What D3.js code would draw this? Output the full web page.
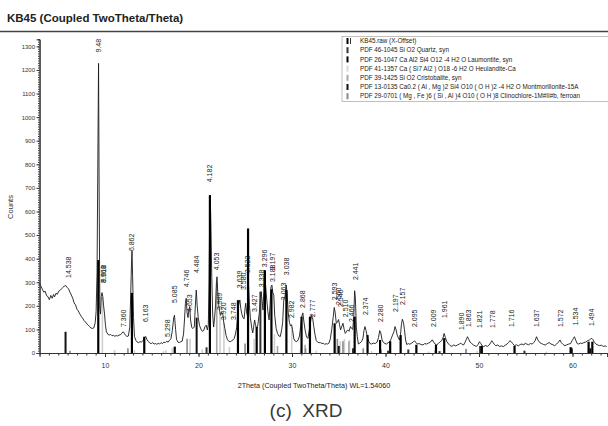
<!DOCTYPE html>
<html>
<head>
<meta charset="utf-8">
<script src="https://cdn.jsdelivr.net/npm/d3@7/dist/d3.min.js"></script>
<style>
  body { margin: 0; background: #fff; }
  svg { display: block; font-family: "Liberation Sans", Arial, sans-serif; }
</style>
</head>
<body>
<div id="chart"></div>
<script>
// measured scan, [2theta, counts]
var scan = [
  [3.0,296],[3.15,283],[3.3,270],[3.45,258],[3.6,262],[3.75,243],[3.9,239],[4.05,226],[4.2,244],[4.35,232],
  [4.5,248],[4.6,238],[4.75,253],[4.9,249],[5.05,262],[5.2,266],[5.35,272],[5.5,278],[5.65,284],[5.8,286],
  [5.95,278],[6.1,272],[6.25,258],[6.4,246],[6.55,232],[6.7,212],[6.85,204],[7.0,186],[7.15,178],[7.3,166],
  [7.45,156],[7.6,148],[7.75,138],[7.9,132],[8.05,124],[8.2,119],[8.35,112],[8.5,106],[8.65,104],[8.8,106],
  [8.95,128],[9.05,175],[9.15,340],[9.25,900],[9.31,1228],[9.37,700],[9.45,190],[9.52,165],[9.6,240],[9.68,256],
  [9.76,240],[9.85,200],[9.95,165],[10.05,118],[10.15,90],[10.3,80],[10.45,76],[10.6,79],[10.75,73],[10.9,75],
  [11.05,71],[11.2,74],[11.35,72],[11.5,76],[11.65,77],[11.8,84],[11.95,90],[12.05,84],[12.2,75],[12.35,70],
  [12.5,72],[12.65,110],[12.75,250],[12.85,400],[12.89,432],[12.95,330],[13.05,150],[13.15,70],[13.3,54],[13.45,46],
  [13.6,44],[13.75,48],[13.9,46],[14.05,52],[14.2,64],[14.35,70],[14.5,56],[14.65,48],[14.8,42],[14.95,40],
  [15.1,44],[15.25,38],[15.4,40],[15.55,37],[15.7,41],[15.85,38],[16.0,44],[16.15,40],[16.3,46],[16.45,44],
  [16.6,50],[16.75,46],[16.9,54],[17.05,60],[17.2,95],[17.35,150],[17.43,160],[17.55,100],[17.65,58],[17.8,46],
  [17.95,44],[18.1,48],[18.25,50],[18.4,80],[18.5,140],[18.6,210],[18.68,232],[18.78,170],[18.88,150],[18.98,185],
  [19.06,197],[19.15,140],[19.28,108],[19.4,104],[19.55,110],[19.65,190],[19.76,267],[19.86,200],[19.97,150],[20.1,118],
  [20.25,102],[20.4,92],[20.55,95],[20.7,112],[20.82,118],[20.95,98],[21.05,120],[21.13,300],[21.2,600],[21.25,669],
  [21.32,560],[21.42,320],[21.52,160],[21.62,110],[21.72,150],[21.82,200],[21.92,300],[21.98,323],[22.06,260],[22.16,205],
  [22.27,175],[22.36,160],[22.48,172],[22.6,165],[22.7,130],[22.82,104],[22.95,74],[23.1,56],[23.25,50],[23.4,48],
  [23.55,52],[23.7,56],[23.82,62],[23.95,80],[24.08,108],[24.2,160],[24.3,205],[24.42,225],[24.52,190],[24.62,168],
  [24.75,150],[24.88,145],[24.98,190],[25.05,211],[25.14,175],[25.22,160],[25.3,230],[25.36,281],[25.45,200],[25.55,150],
  [25.68,110],[25.8,85],[25.9,110],[26.0,140],[26.1,120],[26.22,100],[26.35,120],[26.5,168],[26.62,230],[26.7,260],
  [26.8,220],[26.9,182],[26.98,260],[27.05,351],[27.15,300],[27.3,225],[27.42,175],[27.55,140],[27.65,200],[27.75,280],
  [27.85,288],[27.95,255],[28.05,245],[28.15,160],[28.3,105],[28.45,83],[28.6,72],[28.75,70],[28.9,100],[29.0,130],
  [29.12,225],[29.25,240],[29.38,288],[29.48,250],[29.6,170],[29.72,130],[29.85,115],[29.95,120],[30.05,100],[30.2,60],
  [30.35,50],[30.5,48],[30.65,55],[30.8,72],[30.95,120],[31.05,155],[31.16,170],[31.28,130],[31.4,98],[31.55,68],
  [31.7,62],[31.82,90],[31.95,125],[32.1,160],[32.2,150],[32.33,112],[32.45,80],[32.6,52],[32.75,46],[32.9,44],
  [33.05,44],[33.2,40],[33.35,42],[33.5,36],[33.65,40],[33.8,38],[33.95,42],[34.1,60],[34.25,100],[34.4,150],
  [34.52,193],[34.62,170],[34.74,126],[34.85,130],[34.98,142],[35.08,120],[35.2,98],[35.3,110],[35.45,126],[35.58,100],
  [35.7,83],[35.82,90],[35.95,98],[36.1,92],[36.25,112],[36.38,104],[36.5,100],[36.6,150],[36.7,264],[36.78,230],
  [36.88,110],[36.98,70],[37.1,38],[37.25,42],[37.42,48],[37.58,60],[37.7,95],[37.8,112],[37.92,95],[38.05,69],
  [38.2,50],[38.35,40],[38.5,38],[38.7,42],[38.9,40],[39.1,46],[39.25,65],[39.38,95],[39.5,85],[39.63,55],
  [39.8,44],[39.95,40],[40.1,38],[40.3,44],[40.45,48],[40.6,60],[40.75,76],[40.9,90],[41.02,112],[41.12,100],
  [41.25,76],[41.38,64],[41.5,55],[41.6,75],[41.7,120],[41.8,143],[41.92,130],[42.03,98],[42.15,55],[42.27,36],
  [42.45,40],[42.6,37],[42.8,42],[42.95,46],[43.1,52],[43.25,44],[43.4,38],[43.6,40],[43.8,36],[44.0,34],
  [44.2,40],[44.4,38],[44.6,42],[44.8,46],[45.0,56],[45.15,46],[45.3,38],[45.45,34],[45.65,40],[45.85,48],
  [46.0,52],[46.15,64],[46.27,83],[46.4,66],[46.56,48],[46.75,38],[46.9,32],[47.1,28],[47.3,34],[47.5,30],
  [47.7,34],[47.9,38],[48.06,42],[48.2,36],[48.35,34],[48.5,45],[48.65,58],[48.77,69],[48.9,58],[49.05,46],
  [49.2,41],[49.4,34],[49.6,30],[49.75,28],[49.9,36],[50.05,48],[50.2,40],[50.35,30],[50.5,27],[50.7,32],
  [50.9,28],[51.1,34],[51.25,44],[51.37,52],[51.5,44],[51.65,36],[51.8,31],[52.0,34],[52.2,28],[52.4,30],
  [52.6,27],[52.8,33],[53.0,38],[53.15,44],[53.3,52],[53.45,48],[53.6,40],[53.8,31],[54.0,35],[54.2,30],
  [54.4,36],[54.6,38],[54.8,34],[54.95,42],[55.1,38],[55.3,35],[55.5,40],[55.7,38],[55.85,44],[56.0,52],
  [56.15,69],[56.3,55],[56.5,44],[56.7,40],[56.9,36],[57.1,34],[57.3,40],[57.5,44],[57.7,38],[57.9,35],
  [58.1,31],[58.3,38],[58.5,46],[58.66,55],[58.8,44],[59.0,36],[59.2,31],[59.4,35],[59.6,38],[59.8,40],
  [59.95,52],[60.1,62],[60.2,69],[60.35,54],[60.5,40],[60.65,38],[60.85,42],[61.0,40],[61.2,44],[61.4,46],
  [61.6,52],[61.8,55],[61.95,60],[62.07,62],[62.2,56],[62.35,44],[62.5,38],[62.7,34],[62.9,31],[63.1,33],
  [63.3,28],[63.5,30],[63.65,27]
];

// reference patterns (stick positions and heights)
var heulanditeSticks = [[9.72,238],[11.03,13],[13.15,12],[16.25,8],[16.5,12],[17.2,20],[19.1,60],[20.4,15],[22.3,175],[22.72,130],
  [23.3,25],[25.95,60],[28.12,80],[29.97,112],[30.9,15],[32.6,10],[35.15,50],[35.6,60],[36.15,55],[38.5,8],[44.6,6],[49.8,8],[57.2,6]];
var cristobaliteSticks = [[21.95,300],[28.45,30],[31.4,35],[36.08,50],[48.62,15]];
var clinochloreSticks = [[6.25,10],[12.45,20],[18.78,60],[24.98,40],[31.45,20],[34.85,60],[35.45,50],[37.62,20],[45.32,12],[48.6,18],[59.9,8]];
var quartzSticks = [[20.86,24],[26.62,260],[36.52,20],[39.46,15],[40.28,10],[42.44,15],[45.78,8],[50.12,30],[54.86,10],[59.94,20]];
var montmorilloniteSticks = [[5.78,90],[19.8,150],[35.0,30],[61.9,20]];
var laumontiteSticks = [[9.28,394],[12.88,255],[14.2,69],[17.46,27],[21.22,669],[24.22,224],[25.3,528],[26.22,110],[27.1,351],
  [27.8,270],[29.4,267],[31.02,154],[31.92,154],[34.56,126],[36.7,154],[38.08,76],[39.42,55],[40.5,50],[41.62,76],[43.3,35],
  [45.4,35],[46.28,63],[50.3,30],[53.8,30],[59.8,25],[61.72,48],[62.12,48]];

// d-spacing labels above the peaks
var peakLabels = ["14.538","9.48","8.960","9.018","7.360","6.862","6.163","5.298","5.085","4.746","4.653","4.484","4.182","4.053",
  "3.989","3.920","3.748","3.639","3.580","3.523","3.427","3.338","3.296","3.197","3.188","3.063","3.038","2.982","2.868","2.777",
  "2.593","2.560","2.546","2.510","2.466","2.441","2.374","2.280","2.197","2.157","2.095","2.009","1.961","1.890","1.863","1.821",
  "1.778","1.716","1.637","1.572","1.534","1.494"];
var peakTwoTheta = [6.075,9.321,9.86,9.80,12.015,12.891,14.36,16.72,17.43,18.68,19.06,19.78,21.23,21.91,
  22.27,22.66,23.72,24.44,24.85,25.26,25.98,26.69,27.03,27.89,27.97,29.13,29.38,29.94,31.16,32.21,
  34.57,35.03,35.22,35.75,36.41,36.79,37.87,39.50,41.06,41.86,43.15,45.12,46.29,48.14,48.89,50.10,
  51.40,53.43,56.17,58.69,60.28,62.07];
var peakLabelCounts = [318,1274,296,300,110,432,131,68,212,279,174,339,724,351,
  182,140,140,275,267,339,174,279,364,351,301,224,330,148,191,152,
  224,203,195,152,131,309,161,131,174,203,110,110,148,97,110,106,
  106,110,110,110,118,114];

var xTicks = [10, 20, 30, 40, 50, 60];
var yTicks = d3.range(0, 1301, 100);

var legendItems = [
  "KB45.raw (X-Offset)",
  "PDF 46-1045 Si O2 Quartz, syn",
  "PDF 26-1047 Ca Al2 Si4 O12 -4 H2 O Laumontite, syn",
  "PDF 41-1357 Ca ( Si7 Al2 ) O18 -6 H2 O Heulandite-Ca",
  "PDF 39-1425 Si O2 Cristobalite, syn",
  "PDF 13-0135 Ca0.2 ( Al , Mg )2 Si4 O10 ( O H )2 -4 H2 O Montmorillonite-15A",
  "PDF 29-0701 ( Mg , Fe )6 ( Si , Al )4 O10 ( O H )8 Clinochlore-1M#II#b, ferroan"
];

var width = 608, height = 426;
var svg = d3.select("#chart").append("svg").attr("width", width).attr("height", height);

// scales
var x = d3.scaleLinear().domain([3, 63.7]).range([39.55, 607.1]);
var y = d3.scaleLinear().domain([0, 1330]).range([353, 39.3]);

// title and rule under it
svg.append("text").attr("x", 7).attr("y", 22)
  .style("font-size", "11.5px").style("font-weight", "bold").style("fill", "#222")
  .text("KB45 (Coupled TwoTheta/Theta)");
svg.append("line").attr("x1", 0).attr("x2", width).attr("y1", 31.5).attr("y2", 31.5)
  .attr("stroke", "#444").attr("stroke-width", 1.3);

// sticks, lightest first
function drawSticks(data, colour, w) {
  svg.append("g").selectAll("line").data(data).enter().append("line")
    .attr("x1", d => x(d[0])).attr("x2", d => x(d[0]))
    .attr("y1", y(0)).attr("y2", d => y(d[1]))
    .attr("stroke", colour).attr("stroke-width", w);
}
drawSticks(heulanditeSticks, "#cfcfcf", 1.6);
drawSticks(cristobaliteSticks, "#a8a8a8", 1.6);
drawSticks(clinochloreSticks, "#8a8a8a", 1.6);

// measured curve
var line = d3.line().x(d => x(d[0])).y(d => y(d[1]));
svg.append("path").datum(scan).attr("d", line)
  .attr("fill", "none").attr("stroke", "#1a1a1a").attr("stroke-width", 0.9);

drawSticks(quartzSticks, "#333", 2);
drawSticks(montmorilloniteSticks, "#111", 2);
drawSticks(laumontiteSticks, "#000", 2.2);

// y axis with minor ticks
svg.append("g").attr("transform", "translate(" + x(3) + ",0)")
  .call(d3.axisLeft(y).tickValues(d3.range(0, 1331, 10)).tickSize(1.5).tickFormat(""));
var yAxis = svg.append("g").attr("transform", "translate(" + x(3) + ",0)")
  .call(d3.axisLeft(y).tickValues(yTicks).tickSize(3).tickPadding(1.5).tickFormat(d3.format("d")));
yAxis.selectAll("text").style("font-size", "6px").style("fill", "#333");

// x axis with minor ticks
svg.append("g").attr("transform", "translate(0," + y(0) + ")")
  .call(d3.axisBottom(x).tickValues(d3.range(4, 64, 1)).tickSize(2.5).tickFormat(""));
var xAxis = svg.append("g").attr("transform", "translate(0," + y(0) + ")")
  .call(d3.axisBottom(x).tickValues(xTicks).tickSize(4).tickPadding(6));
xAxis.selectAll("text").style("font-size", "7px").style("fill", "#333");
svg.selectAll(".tick line").attr("stroke", "#333");
svg.selectAll(".domain").attr("stroke", "#333");

// peak labels
svg.append("g").selectAll("text").data(peakLabels).enter().append("text")
  .attr("transform", (d, i) => "translate(" + x(peakTwoTheta[i]) + "," + y(peakLabelCounts[i]) + ") rotate(-90)")
  .attr("dy", "0.35em")
  .style("font-size", "7px").style("fill", "#222")
  .text(d => d);

// axis titles
svg.append("text").attr("transform", "translate(13,207) rotate(-90)").attr("text-anchor", "middle")
  .style("font-size", "7.5px").style("fill", "#333").text("Counts");
svg.append("text").attr("x", 314).attr("y", 388).attr("text-anchor", "middle")
  .style("font-size", "7.2px").style("fill", "#222").text("2Theta (Coupled TwoTheta/Theta) WL=1.54060");

// caption
svg.append("text").attr("x", 306).attr("y", 417).attr("text-anchor", "middle")
  .style("font-size", "19px").style("fill", "#3a3a3a").style("white-space", "pre")
  .text("(c)  XRD");

// legend
var legendColours = ["#000", "#333", "#000", "#d8d8d8", "#a8a8a8", "#111", "#888"];
var lg = svg.append("g");
lg.append("rect").attr("x", 342).attr("y", 36.5).attr("width", 280).attr("height", 65)
  .attr("fill", "#fff").attr("stroke", "#b0b0b0").attr("stroke-width", 0.8);
legendItems.forEach(function(t, i) {
  var yy = 41 + i * 9.2;
  lg.append("rect").attr("x", 346.5).attr("y", yy - 3).attr("width", 2).attr("height", 6).attr("fill", legendColours[i]);
  if (i === 0) {
    lg.append("rect").attr("x", 350).attr("y", yy - 3).attr("width", 0.8).attr("height", 6).attr("fill", "#000");
  }
  lg.append("text").attr("x", 360).attr("y", yy).attr("dy", "0.35em")
    .style("font-size", "6.3px").style("fill", "#222").text(t);
});
</script>
</body>
</html>
